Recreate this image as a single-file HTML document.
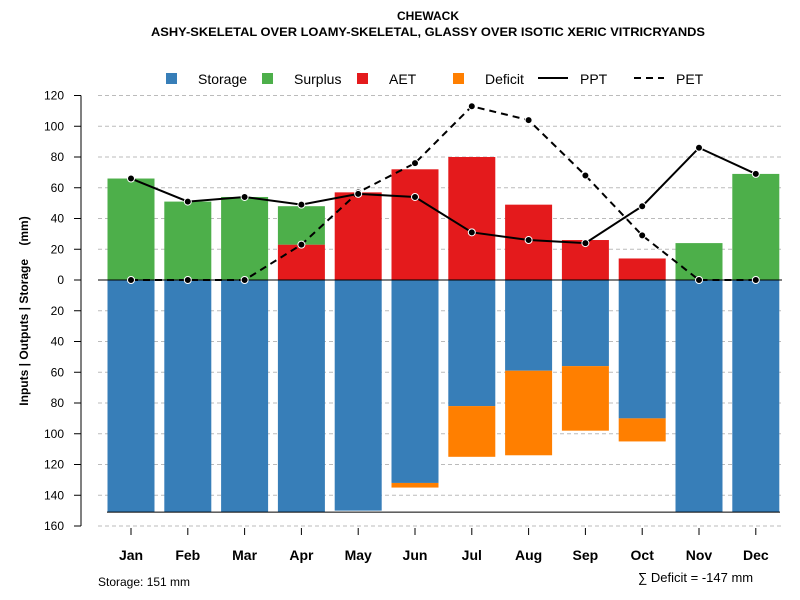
<!DOCTYPE html>
<html><head><meta charset="utf-8"><style>
body{margin:0;background:#fff}
svg{font-family:"Liberation Sans",sans-serif;display:block}
</style></head><body>
<svg id="chart" width="800" height="600" viewBox="0 0 800 600">
<text x="428" y="20" text-anchor="middle" font-size="12" font-weight="bold">CHEWACK</text>
<text x="428" y="36" text-anchor="middle" font-size="12" font-weight="bold" textLength="554" lengthAdjust="spacingAndGlyphs">ASHY-SKELETAL OVER LOAMY-SKELETAL, GLASSY OVER ISOTIC XERIC VITRICRYANDS</text>
<g font-size="14">
<rect x="166" y="73" width="11" height="11" fill="#377eb8"/><text x="198" y="84">Storage</text>
<rect x="262" y="73" width="11" height="11" fill="#4daf4a"/><text x="294" y="84">Surplus</text>
<rect x="357" y="73" width="11" height="11" fill="#e41a1c"/><text x="389" y="84">AET</text>
<rect x="453" y="73" width="11" height="11" fill="#ff7f00"/><text x="485" y="84">Deficit</text>
<line x1="538" y1="78" x2="568" y2="78" stroke="#000" stroke-width="2"/><text x="580" y="84">PPT</text>
<line x1="634" y1="78" x2="664" y2="78" stroke="#000" stroke-width="2" stroke-dasharray="7,5"/><text x="676" y="84">PET</text>
</g>
<text transform="translate(28,311) rotate(-90)" text-anchor="middle" font-size="12" font-weight="bold" xml:space="preserve" style="white-space:pre">Inputs | Outputs | Storage    (mm)</text>
<text x="98" y="586" font-size="12">Storage: 151 mm</text>
<text x="638" y="582" font-size="13">∑ Deficit = -147 mm</text>
<g id="grid"></g><g id="bars"></g><g id="axes"></g><g id="lines"></g>
</svg>
<script>
const months=["Jan","Feb","Mar","Apr","May","Jun","Jul","Aug","Sep","Oct","Nov","Dec"];
const ppt=[66,51,54,49,56,54,31,26,24,48,86,69];
const pet=[0,0,0,23,57,76,113,104,68,29,0,0];
const aet=[0,0,0,23,57,72,80,49,26,14,0,0];
const surplus=[66,51,54,25,0,0,0,0,0,0,24,69];
const storage=[151,151,151,151,150,132,82,59,56,90,151,151];
const deficit=[0,0,0,0,0,3,33,55,42,15,0,0];
const yTicks=[120,100,80,60,40,20,0,20,40,60,80,100,120,140,160];
const yVals=[120,100,80,60,40,20,0,-20,-40,-60,-80,-100,-120,-140,-160];
const maxStorage=151;
const NS="http://www.w3.org/2000/svg";
const y=v=>280-v*1.5375;
const x=i=>131+i*56.8;
const bw=47;
function mk(p,t,a){const e=document.createElementNS(NS,t);for(const k in a)e.setAttribute(k,a[k]);document.getElementById(p).appendChild(e);return e;}
yVals.forEach((v,i)=>{
 const g=mk("grid","line",{x1:98,x2:782,y1:y(v),y2:y(v),stroke:"#bbb","stroke-dasharray":"4,3"});
 
 
 const t=mk("axes","line",{x1:74,x2:81,y1:y(v),y2:y(v),stroke:"#000"});
 
 
 const l=mk("axes","text",{x:64,y:y(v)+4,"text-anchor":"end","font-size":"12"});l.textContent=yTicks[i];
 
 
});
const ax=mk("axes","line",{x1:81,x2:81,y1:y(120),y2:y(-160),stroke:"#000"});


months.forEach((m,i)=>{
 const cx=x(i),l=cx-bw/2;
 const s=mk("bars","rect",{x:l,y:y(0),width:bw,height:storage[i]*1.5375,fill:"#377eb8"});
 
 
 if(deficit[i]>0){const d=mk("bars","rect",{x:l,y:y(-storage[i]),width:bw,height:deficit[i]*1.5375,fill:"#ff7f00"});
 
 }
 if(aet[i]>0){const a=mk("bars","rect",{x:l,y:y(aet[i]),width:bw,height:aet[i]*1.5375,fill:"#e41a1c"});
 
 }
 if(surplus[i]>0){const su=mk("bars","rect",{x:l,y:y(aet[i]+surplus[i]),width:bw,height:surplus[i]*1.5375,fill:"#4daf4a"});
 
 }
 const t=mk("axes","line",{x1:cx,x2:cx,y1:528,y2:535,stroke:"#000"});
 
 
 const lb=mk("axes","text",{x:cx,y:560,"text-anchor":"middle","font-size":"14","font-weight":"bold"});lb.textContent=m;
 
 
});
const zl=mk("lines","line",{x1:98,x2:782,y1:y(0),y2:y(0),stroke:"#000"});


const sl=mk("lines","line",{x1:107,x2:780,y1:y(-maxStorage),y2:y(-maxStorage),stroke:"#000"});


function series(vals,dash,name){
 const p=mk("lines","polyline",{points:vals.map((v,i)=>x(i)+","+y(v)).join(" "),fill:"none",stroke:"#000","stroke-width":2,"stroke-dasharray":dash});
 
 
 vals.forEach((v,i)=>{const c=mk("lines","circle",{cx:x(i),cy:y(v),r:3.5,fill:"#000",stroke:"#fff","stroke-width":1});
 
 });
}
series(pet,"7,5","pet");
series(ppt,"none","ppt");
</script>
</body></html>
